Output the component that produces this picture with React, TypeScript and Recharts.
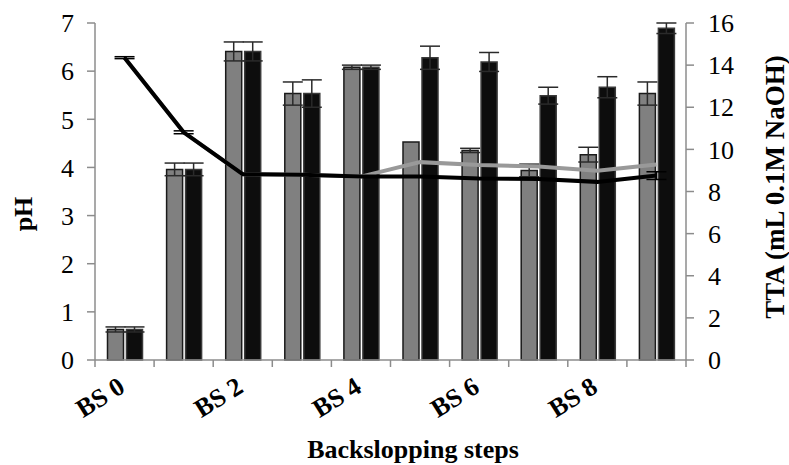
import React from 'react';
import { ComposedChart, Bar, Line, XAxis, YAxis, ErrorBar } from 'recharts';

const steps = ['BS 0', 'BS 1', 'BS 2', 'BS 3', 'BS 4', 'BS 5', 'BS 6', 'BS 7', 'BS 8', 'BS 9'];

// TTA bars (right axis)
const ttaGrey = [1.45, 9.05, 14.65, 12.65, 13.9, 10.35, 9.95, 9.0, 9.75, 12.65];
const ttaGreyErr = [0.12, 0.3, 0.45, 0.55, 0.1, 0, 0.1, 0.3, 0.35, 0.55];
const ttaBlack = [1.45, 9.05, 14.65, 12.65, 13.9, 14.35, 14.15, 12.55, 12.95, 15.75];
const ttaBlackErr = [0.12, 0.3, 0.45, 0.65, 0.1, 0.55, 0.45, 0.4, 0.5, 0.25];

// pH lines (left axis)
const phGrey = [6.28, 4.73, 3.86, 3.85, 3.81, 4.11, 4.05, 4.02, 3.93, 4.06];
const phBlack = [6.28, 4.73, 3.86, 3.85, 3.81, 3.81, 3.77, 3.76, 3.7, 3.83];
const phBlackErr = [0.02, 0.03, 0, 0, 0, 0, 0, 0, 0, 0.08];

const phTicks = [0, 1, 2, 3, 4, 5, 6, 7];
const ttaTicks = [0, 2, 4, 6, 8, 10, 12, 14, 16];

const data = steps.map((s, i) => ({
  step: s,
  ttaGrey: ttaGrey[i],
  ttaGreyErr: ttaGreyErr[i],
  ttaBlack: ttaBlack[i],
  ttaBlackErr: ttaBlackErr[i],
  phGrey: phGrey[i],
  phBlack: phBlack[i],
  phBlackErr: phBlackErr[i],
}));

const FONT = '"Liberation Serif", "Times New Roman", serif';
const AXIS = '#8c8c8c';

const StepTick = (props: any) => {
  const { payload, index } = props;
  const x = Number(props.x);
  const y = Number(props.y);
  const half = payload && payload.offset ? Number(payload.offset) : 29.5;
  const last = index === steps.length - 1;
  return (
    <g>
      <line x1={x - half} x2={x - half} y1={y} y2={y + 7} stroke={AXIS} strokeWidth={1.5} />
      {last && <line x1={x + half} x2={x + half} y1={y} y2={y + 7} stroke={AXIS} strokeWidth={1.5} />}
      {index % 2 === 0 && (
        <g transform={`translate(${x + 2},${y + 31})`}>
          <text
            x={0}
            y={0}
            textAnchor="end"
            transform="rotate(-32)"
            style={{ transform: 'rotate(-32deg)', transformOrigin: '0px 0px', transformBox: 'view-box' } as any}
            fontFamily={FONT}
            fontSize={26}
            fontWeight="bold"
            fill="#000"
          >
            {payload.value}
          </text>
        </g>
      )}
    </g>
  );
};

const tickStyle = { fontFamily: FONT, fontSize: 26, fill: '#000' };

export default function App() {
  return (
    <div style={{ position: 'absolute', left: 0, top: 0, background: '#fff' }}>
      <ComposedChart
        width={789}
        height={465}
        data={data}
        margin={{ top: 23, right: 43, bottom: 45, left: 35 }}
        barCategoryGap={12.5}
        barGap={3}
      >
        <XAxis
          dataKey="step"
          interval={0}
          height={60}
          tickLine={false}
          tickSize={0}
          tickMargin={0}
          axisLine={{ stroke: AXIS, strokeWidth: 1.5 }}
          tick={<StepTick />}
          label={{
            content: () => (
              <text x={413} y={458} textAnchor="middle" fontFamily={FONT} fontSize={26} fontWeight="bold" fill="#000">
                Backslopping steps
              </text>
            ),
          }}
        />
        <YAxis
          yAxisId="ph"
          orientation="left"
          width={60}
          domain={[0, 7]}
          ticks={phTicks}
          interval={0}
          tick={tickStyle}
          tickSize={8}
          tickMargin={13}
          tickLine={{ stroke: AXIS, strokeWidth: 1.5 }}
          axisLine={{ stroke: AXIS, strokeWidth: 1.5 }}
          label={{
            content: () => (
              <text
                x={23}
                y={214}
                textAnchor="middle"
                dominantBaseline="central"
                transform="rotate(-90, 23, 214)"
                fontFamily={FONT}
                fontSize={26}
                fontWeight="bold"
                fill="#000"
              >
                pH
              </text>
            ),
          }}
        />
        <YAxis
          yAxisId="tta"
          orientation="right"
          width={60}
          domain={[0, 16]}
          ticks={ttaTicks}
          interval={0}
          tick={tickStyle}
          tickSize={8}
          tickMargin={14}
          tickLine={{ stroke: AXIS, strokeWidth: 1.5 }}
          axisLine={{ stroke: AXIS, strokeWidth: 1.5 }}
          label={{
            content: () => (
              <text
                x={775}
                y={187}
                textAnchor="middle"
                dominantBaseline="central"
                transform="rotate(-90, 775, 187)"
                fontFamily={FONT}
                fontSize={27}
                fontWeight="bold"
                fill="#000"
              >
                TTA (mL 0.1M NaOH)
              </text>
            ),
          }}
        />
        <Bar yAxisId="tta" dataKey="ttaGrey" fill="#808080" stroke="#1a1a1a" strokeWidth={1.5} isAnimationActive={false}>
          <ErrorBar dataKey="ttaGreyErr" width={10} stroke="#2a2a2a" strokeWidth={1.5} direction="y" />
        </Bar>
        <Bar yAxisId="tta" dataKey="ttaBlack" fill="#0d0d0d" stroke="#3a3a3a" strokeWidth={1.5} isAnimationActive={false}>
          <ErrorBar dataKey="ttaBlackErr" width={10} stroke="#2a2a2a" strokeWidth={1.5} direction="y" />
        </Bar>
        <Line
          yAxisId="ph"
          dataKey="phGrey"
          stroke="#999999"
          strokeWidth={4}
          dot={false}
          activeDot={false}
          isAnimationActive={false}
        />
        <Line
          yAxisId="ph"
          dataKey="phBlack"
          stroke="#000"
          strokeWidth={4}
          dot={false}
          activeDot={false}
          isAnimationActive={false}
        >
          <ErrorBar dataKey="phBlackErr" width={10} stroke="#000" strokeWidth={1.5} direction="y" />
        </Line>
      </ComposedChart>
    </div>
  );
}
